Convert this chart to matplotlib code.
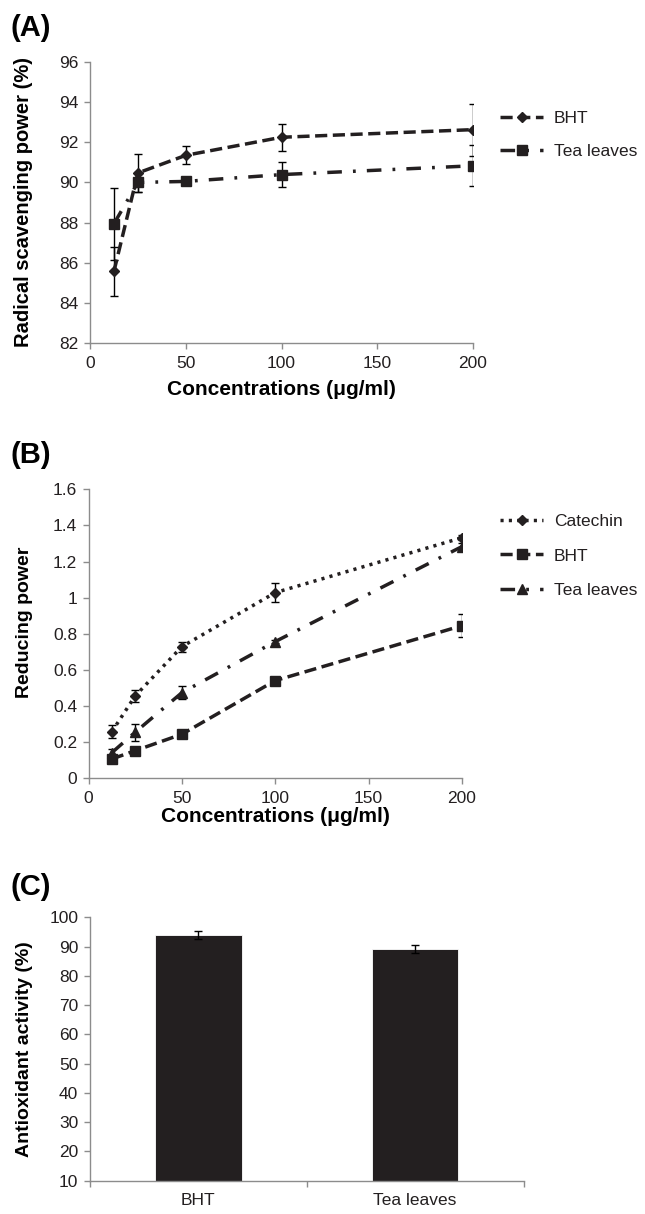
import matplotlib.pyplot as plt
import numpy as np
from matplotlib.ticker import FuncFormatter

plt.rcParams['font.family'] = ['Liberation Sans', 'DejaVu Sans']

# panel A - radical scavenging
conc = [12.5, 25, 50, 100, 200]
a_bht = [85.57, 90.47, 91.35, 92.25, 92.63]
a_bht_err = [1.22, 0.95, 0.45, 0.66, 1.29]
a_tea = [87.94, 90.0, 90.05, 90.39, 90.83]
a_tea_err = [1.78, 0.5, 0.1, 0.63, 1.01]

# panel B - reducing power
b_cat = [0.258, 0.456, 0.729, 1.028, 1.332]
b_cat_err = [0.037, 0.033, 0.028, 0.052, 0.015]
b_bht = [0.107, 0.153, 0.244, 0.541, 0.845]
b_bht_err = [0.02, 0.01, 0.01, 0.01, 0.065]
b_tea = [0.142, 0.255, 0.474, 0.757, 1.283]
b_tea_err = [0.02, 0.046, 0.037, 0.01, 0.02]

# panel C - antioxidant activity
c_names = ['BHT', 'Tea leaves']
c_vals = [93.96, 89.2]
c_err = [1.37, 1.25]

W, H = 645, 1214
fig = plt.figure(figsize=(W / 100, H / 100), dpi=100)

gray = '#8c8c8c'
ink = '#231f20'
lw = 2.5
dash_bht = (3.5, 1.6)
dash_tea = (4.2, 3.2, 0.8, 3.2)
dash_cat = (0.9, 1.5)
msize = {'D': 5.5, 's': 6.5, '^': 6.5}


def axes_px(left, right, top, bottom):
    return fig.add_axes([left / W, 1 - bottom / H, (right - left) / W, (bottom - top) / H])


def style(ax):
    for s in ['top', 'right']:
        ax.spines[s].set_visible(False)
    for s in ['left', 'bottom']:
        ax.spines[s].set_color(gray)
        ax.spines[s].set_linewidth(1)
    ax.tick_params(axis='both', direction='out', length=4.2, width=1, color=gray,
                   labelsize=12.5, labelcolor=ink, pad=4)


def series(ax, y, err, dashes, marker, label):
    ax.errorbar(conc, y, yerr=err, fmt='none', ecolor='black', elinewidth=1, capsize=3, capthick=1, zorder=2)
    ax.plot(conc, y, color=ink, lw=lw, dashes=dashes, marker=marker, ms=msize[marker], mfc=ink, mec=ink,
            label=label, zorder=3)


# (A)
ax1 = axes_px(90, 473, 62, 343)
style(ax1)
series(ax1, a_bht, a_bht_err, dash_bht, 'D', 'BHT')
series(ax1, a_tea, a_tea_err, dash_tea, 's', 'Tea leaves')
ax1.set_xlim(0, 200)
ax1.set_ylim(82, 96)
ax1.set_xticks(np.arange(0, 201, 50))
ax1.set_yticks(np.arange(82, 97, 2))
ax1.tick_params(axis='x', pad=5)
ax1.set_ylabel('Radical scavenging power (%)', fontsize=14.5, fontweight='bold')
ax1.set_xlabel('Concentrations (\u03bcg/ml)', fontsize=15, fontweight='bold')
ax1.yaxis.set_label_coords(-0.149, 0.5)
ax1.xaxis.set_label_coords(0.5, -0.13)
ax1.legend(loc='center left', bbox_to_anchor=(500 / W, 1 - 135 / H), bbox_transform=fig.transFigure,
           frameon=False, fontsize=12.5, handlelength=2.5, handletextpad=0.6, labelspacing=1.05,
           borderpad=0, borderaxespad=0, labelcolor=ink)
fig.text(10 / W, 1 - 28 / H, '(A)', fontsize=21, fontweight='bold', va='center', ha='left')

# (B)
ax2 = axes_px(88.5, 462, 489.3, 778.3)
style(ax2)
series(ax2, b_cat, b_cat_err, dash_cat, 'D', 'Catechin')
series(ax2, b_bht, b_bht_err, dash_bht, 's', 'BHT')
series(ax2, b_tea, b_tea_err, dash_tea, '^', 'Tea leaves')
ax2.set_xlim(0, 200)
ax2.set_ylim(0, 1.6)
ax2.set_xticks(np.arange(0, 201, 50))
ax2.set_yticks(np.arange(0, 1.61, 0.2))
ax2.yaxis.set_major_formatter(FuncFormatter(lambda v, p: '%g' % round(v, 1)))
ax2.tick_params(axis='x', pad=5)
ax2.set_ylabel('Reducing power', fontsize=14, fontweight='bold')
ax2.set_xlabel('Concentrations (\u03bcg/ml)', fontsize=15, fontweight='bold')
ax2.yaxis.set_label_coords(-0.149, 0.54)
ax2.xaxis.set_label_coords(0.5, -0.1)
ax2.legend(loc='center left', bbox_to_anchor=(500 / W, 1 - 556 / H), bbox_transform=fig.transFigure,
           frameon=False, fontsize=12.5, handlelength=2.5, handletextpad=0.6, labelspacing=1.1,
           borderpad=0, borderaxespad=0, labelcolor=ink)
fig.text(10 / W, 1 - 455 / H, '(B)', fontsize=21, fontweight='bold', va='center', ha='left')

# (C)
ax3 = axes_px(89.7, 523.5, 917.3, 1180.7)
style(ax3)
xc = np.arange(len(c_names))
ax3.bar(xc, c_vals, width=0.4, color=ink, edgecolor='white', linewidth=0.6, zorder=2)
ax3.errorbar(xc, c_vals, yerr=c_err, fmt='none', ecolor='black', elinewidth=1, capsize=3, capthick=1, zorder=3)
ax3.set_xlim(-0.5, 1.5)
ax3.set_ylim(10, 100)
ax3.set_yticks(np.arange(10, 101, 10))
ax3.set_xticks([-0.5, 0.5, 1.5])
ax3.set_xticklabels([])
ax3.set_xticks(xc, minor=True)
ax3.set_xticklabels(c_names, minor=True)
ax3.tick_params(axis='x', which='minor', length=0, pad=9, labelsize=12.5, labelcolor=ink)
ax3.set_ylabel('Antioxidant activity (%)', fontsize=14, fontweight='bold')
ax3.yaxis.set_label_coords(-0.131, 0.5)
fig.text(10 / W, 1 - 887 / H, '(C)', fontsize=21, fontweight='bold', va='center', ha='left')

fig.savefig('out.png', dpi=100)
